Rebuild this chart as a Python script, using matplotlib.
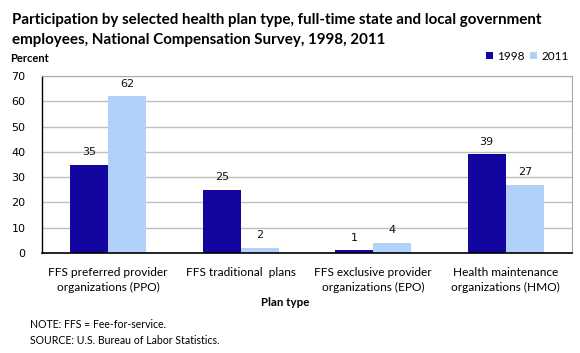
import matplotlib
matplotlib.use("Agg")
import matplotlib.pyplot as plt
import numpy as np

categories = ["FFS preferred provider\norganizations (PPO)", "FFS traditional  plans",
              "FFS exclusive provider\norganizations (EPO)", "Health maintenance\norganizations (HMO)"]
v1998 = [35, 25, 1, 39]
v2011 = [62, 2, 4, 27]
yticks = [0, 10, 20, 30, 40, 50, 60, 70]

c1 = "#1205a0"
c2 = "#b1d1fb"
tf = "Lato"
nf = "DejaVu Sans"

fig = plt.figure(figsize=(5.8, 3.53), dpi=100)
W, H = 580, 353
l, r, t, b = 42, 572, 76, 253
ax = fig.add_axes([l / W, 1 - b / H, (r - l) / W, (b - t) / H])

x = np.arange(len(categories))
bw = 0.287
ax.bar(x - bw / 2, v1998, bw, color=c1, zorder=3, label="1998")
ax.bar(x + bw / 2, v2011, bw, color=c2, zorder=3, label="2011")
for xi, v in zip(x, v1998):
    ax.text(xi - bw / 2, v + 3, str(v), ha="center", va="bottom", fontsize=8, family=nf, color="#111111")
for xi, v in zip(x, v2011):
    ax.text(xi + bw / 2, v + 3, str(v), ha="center", va="bottom", fontsize=8, family=nf, color="#111111")

ax.set_xlim(-0.5, 3.5)
ax.set_ylim(0, 70)
ax.set_yticks(yticks)
ax.set_yticklabels([str(v) for v in yticks], fontsize=8, family=nf)
ax.set_xticks(x)
ax.set_xticklabels(categories, fontsize=8.6, family=tf, linespacing=1.45)
ax.tick_params(axis="both", length=0, pad=10)
ax.tick_params(axis="y", pad=12)
ax.grid(axis="y", color="#c0c0c0", linewidth=1, zorder=0)
for s in ["top", "right"]:
    ax.spines[s].set_color("#a8a8a8")
for s in ["left", "bottom"]:
    ax.spines[s].set_color("black")
ax.spines["bottom"].set_linewidth(1.2)
ax.spines["left"].set_linewidth(1.0)
ax.spines["bottom"].set_zorder(4)

fig.text(12 / W, 1 - 20 / H, "Participation by selected health plan type, full-time state and local government",
         fontsize=10.9, fontweight="bold", family=tf, va="center")
fig.text(12 / W, 1 - 40 / H, "employees, National Compensation Survey, 1998, 2011",
         fontsize=10.9, fontweight="bold", family=tf, va="center")
fig.text(10 / W, 1 - 58 / H, "Percent", fontsize=8, fontweight="bold", family=tf, va="center")
fig.text(285 / W, 1 - 303 / H, "Plan type", fontsize=8.3, fontweight="bold", family=tf, va="center", ha="center")
fig.text(30 / W, 1 - 324 / H, "NOTE: FFS = Fee-for-service.", fontsize=7.6, family=tf, va="center")
fig.text(30 / W, 1 - 341 / H, "SOURCE: U.S. Bureau of Labor Statistics.", fontsize=7.6, family=tf, va="center")

leg = fig.legend(loc="center right", bbox_to_anchor=(569 / W, 1 - 56 / H), ncol=2, frameon=False,
                 prop={"family": tf, "size": 8.5}, handlelength=0.6, handleheight=0.6,
                 handletextpad=0.35, columnspacing=0.5, borderaxespad=0, borderpad=0)

fig.savefig("out.png", dpi=100)
